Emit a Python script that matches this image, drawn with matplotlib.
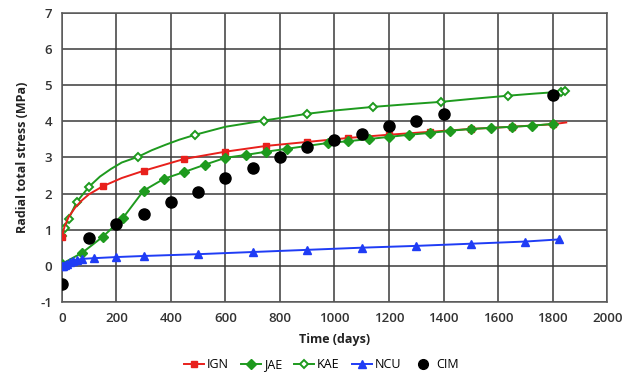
import matplotlib
matplotlib.use("Agg")
import matplotlib.pyplot as plt
from matplotlib.lines import Line2D

# ---- data ----
ign_days = [0, 10, 25, 50, 75, 100, 150, 220, 300, 450, 600, 750, 900, 1050, 1200, 1350, 1500, 1650, 1800, 1850]
ign_vals = [0.8, 1.08, 1.35, 1.62, 1.82, 1.98, 2.2, 2.43, 2.63, 2.96, 3.16, 3.32, 3.43, 3.54, 3.63, 3.71, 3.79, 3.85, 3.92, 3.97]
ign_marked = [0, 6, 8, 9, 10, 11, 12, 13, 14, 15, 16, 17, 18]

jae_days = [0, 75, 150, 225, 300, 375, 450, 525, 600, 675, 750, 825, 900, 975, 1050,
            1125, 1200, 1275, 1350, 1425, 1500, 1575, 1650, 1725, 1800]
jae_vals = [0.05, 0.36, 0.8, 1.33, 2.08, 2.41, 2.6, 2.8, 2.99, 3.07, 3.16, 3.24, 3.32, 3.4, 3.45,
            3.51, 3.57, 3.63, 3.68, 3.74, 3.79, 3.82, 3.85, 3.88, 3.93]

kae_days = [0, 10, 25, 55, 100, 140, 180, 220, 280, 330, 380, 430, 490, 600, 740, 900, 1000, 1140, 1260, 1390, 1500, 1635, 1735, 1830, 1845]
kae_vals = [0.83, 1.05, 1.3, 1.77, 2.19, 2.47, 2.68, 2.86, 3.02, 3.2, 3.35, 3.49, 3.63, 3.85, 4.02, 4.21, 4.3, 4.4, 4.47, 4.54, 4.62, 4.71, 4.77, 4.82, 4.84]
kae_marked = [0, 1, 2, 3, 4, 8, 12, 14, 15, 17, 19, 21, 23, 24]

ncu_days = [0, 5, 10, 20, 30, 40, 55, 75, 120, 200, 300, 500, 700, 900, 1100, 1300, 1500, 1700, 1825]
ncu_vals = [-0.02, 0.0, 0.03, 0.06, 0.09, 0.13, 0.16, 0.19, 0.21, 0.24, 0.27, 0.32, 0.38, 0.44, 0.5, 0.55, 0.61, 0.67, 0.73]

cim_days = [0, 100, 200, 300, 400, 500, 600, 700, 800, 900, 1000, 1100, 1200, 1300, 1400, 1800]
cim_vals = [-0.5, 0.78, 1.17, 1.44, 1.77, 2.04, 2.43, 2.7, 3.0, 3.3, 3.49, 3.65, 3.88, 4.02, 4.2, 4.74]

x_ticks = [0, 200, 400, 600, 800, 1000, 1200, 1400, 1600, 1800, 2000]
y_ticks = [-1, 0, 1, 2, 3, 4, 5, 6, 7]

RED = "#e8201c"
GREEN = "#1e9a1e"
BLUE = "#1f3cf5"

plt.rcParams['font.family'] = ['Open Sans', 'DejaVu Sans']
plt.rcParams['axes.unicode_minus'] = False

fig = plt.figure(figsize=(6.24, 3.74), dpi=100)
ax = fig.add_axes([0.099, 0.193, 0.874, 0.772])

ax.plot(kae_days, kae_vals, color=GREEN, lw=1.4, marker='D', ms=4.5, mfc='white',
        mec=GREEN, mew=1.4, markevery=kae_marked, zorder=3)
ax.plot(ign_days, ign_vals, color=RED, lw=1.4, marker='s', ms=5, mfc=RED, mec=RED,
        markevery=ign_marked, zorder=3)
ax.plot(jae_days, jae_vals, color=GREEN, lw=1.4, marker='D', ms=5, mfc=GREEN, mec=GREEN, zorder=4)
ax.plot(ncu_days, ncu_vals, color=BLUE, lw=1.4, marker='^', ms=6, mfc=BLUE, mec=BLUE, zorder=4)
ax.plot(cim_days, cim_vals, linestyle='none', marker='o', ms=8, color='black', zorder=5)

ax.set_xlim(0, 2000)
ax.set_ylim(-1, 7)
ax.set_xticks(x_ticks)
ax.set_yticks(y_ticks)
ax.grid(True, color='#3a3a3a', lw=1.1)
ax.set_axisbelow(True)
for s in ax.spines.values():
    s.set_color('#5a5a5a')
    s.set_linewidth(1.1)
ax.tick_params(length=0, labelsize=9.5, colors='#333333', pad=7)
for lab in ax.get_xticklabels() + ax.get_yticklabels():
    lab.set_fontweight('semibold')

ax.set_xlabel('Time (days)', fontsize=9, fontweight='bold', color='#222222', labelpad=6)
ax.set_ylabel('Radial total stress (MPa)', fontsize=9, fontweight='bold', color='#222222', labelpad=8)

handles = [
    Line2D([], [], color=RED, lw=1.4, marker='s', ms=5),
    Line2D([], [], color=GREEN, lw=1.4, marker='D', ms=5),
    Line2D([], [], color=GREEN, lw=1.4, marker='D', ms=4.5, mfc='white', mew=1.4),
    Line2D([], [], color=BLUE, lw=1.4, marker='^', ms=6),
    Line2D([], [], color='black', lw=0, marker='o', ms=7),
]
labels = ['IGN', 'JAE', 'KAE', 'NCU', 'CIM']
fig.legend(handles, labels, loc='center', bbox_to_anchor=(0.515, 0.025), ncol=5,
           frameon=False, fontsize=9, handlelength=1.6, handletextpad=0.2, columnspacing=1.0)

fig.savefig('out.png', dpi=100)
